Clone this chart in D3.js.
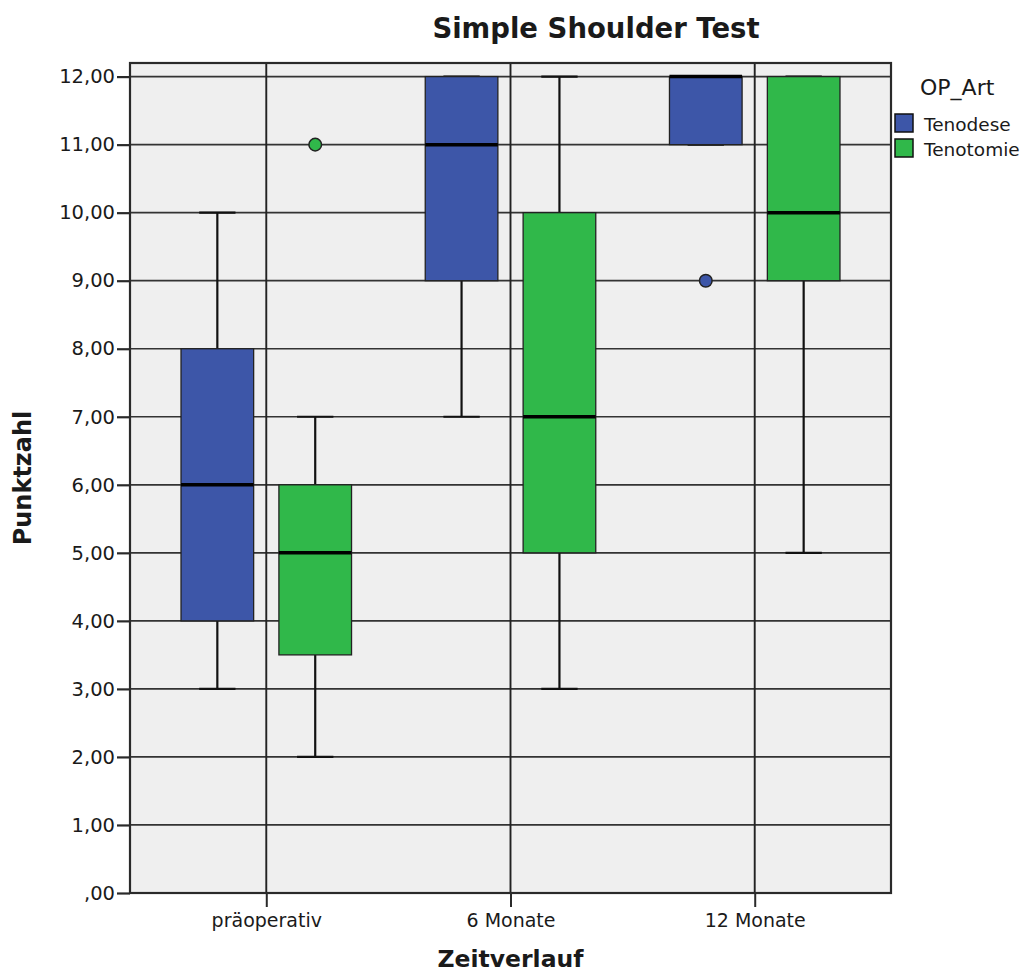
<!DOCTYPE html>
<html>
<head>
<meta charset="utf-8">
<script src="https://cdn.jsdelivr.net/npm/d3@7"></script>
<style>
  html, body { margin: 0; padding: 0; background: #ffffff; }
  svg { display: block; }
  text { font-family: "DejaVu Sans", sans-serif; fill: #1a1a1a; }
</style>
</head>
<body>
<svg id="chart" width="1033" height="976"></svg>
<script>
// Simple Shoulder Test scores by time point and surgery type
const categories = ["präoperativ", "6 Monate", "12 Monate"];
const series = ["Tenodese", "Tenotomie"];
const seriesColors = ["#3d56a8", "#30b84a"];

// box-plot statistics per series (rows) and time point (columns)
const whiskerLow  = [[3, 7, 11], [2, 3, 5]];
const quartile1   = [[4, 9, 11], [3.5, 5, 9]];
const medians     = [[6, 11, 12], [5, 7, 10]];
const quartile3   = [[8, 12, 12], [6, 10, 12]];
const whiskerHigh = [[10, 12, 12], [7, 12, 12]];

// single outlying values
const outlierSeries   = ["Tenotomie", "Tenodese"];
const outlierCategory = ["präoperativ", "12 Monate"];
const outlierValues   = [11, 9];

const yTicks = [0, 1, 2, 3, 4, 5, 6, 7, 8, 9, 10, 11, 12];
const yTickLabels = [",00", "1,00", "2,00", "3,00", "4,00", "5,00", "6,00",
                     "7,00", "8,00", "9,00", "10,00", "11,00", "12,00"];

const plot = { left: 130, right: 891, top: 63, bottom: 893 };
const svg = d3.select("#chart");

const x = d3.scalePoint()
  .domain(categories)
  .range([plot.left, plot.right])
  .padding(0.558);

const xSub = d3.scaleBand()
  .domain(series)
  .range([-x.step() / 2, x.step() / 2])
  .paddingInner(0.258)
  .paddingOuter(0.3765);

const y = d3.scaleLinear()
  .domain([0, 12.2])
  .range([plot.bottom, plot.top]);

// plot background
svg.append("rect")
  .attr("x", plot.left).attr("y", plot.top)
  .attr("width", plot.right - plot.left)
  .attr("height", plot.bottom - plot.top)
  .attr("fill", "#efefef");

// horizontal grid lines
svg.append("g")
  .selectAll("line")
  .data(yTicks)
  .join("line")
  .attr("x1", plot.left).attr("x2", plot.right)
  .attr("y1", d => y(d)).attr("y2", d => y(d))
  .attr("stroke", "#333")
  .attr("stroke-width", 1.7);

// vertical lines at each time point
svg.append("g")
  .selectAll("line")
  .data(categories)
  .join("line")
  .attr("x1", d => x(d)).attr("x2", d => x(d))
  .attr("y1", plot.top).attr("y2", plot.bottom)
  .attr("stroke", "#222")
  .attr("stroke-width", 1.9);

// y axis
const yAxis = d3.axisLeft(y)
  .tickValues(yTicks)
  .tickFormat((d, i) => yTickLabels[i])
  .tickSize(13)
  .tickPadding(2);
const gy = svg.append("g")
  .attr("transform", `translate(${plot.left},0)`)
  .call(yAxis);
gy.select(".domain").remove();
gy.selectAll(".tick line").attr("stroke", "#2a2a2a").attr("stroke-width", 2.2);
gy.selectAll(".tick text")
  .attr("font-size", 19.5)
  .attr("font-family", "DejaVu Sans, sans-serif")
  .attr("fill", "#222");

// x axis
const xAxis = d3.axisBottom(x).tickSize(14).tickPadding(7);
const gx = svg.append("g")
  .attr("transform", `translate(0,${plot.bottom})`)
  .call(xAxis);
gx.select(".domain").remove();
gx.selectAll(".tick line").attr("stroke", "#2a2a2a").attr("stroke-width", 2);
gx.selectAll(".tick text")
  .attr("font-size", 19)
  .attr("font-family", "DejaVu Sans, sans-serif")
  .attr("fill", "#222");

// boxes
const boxes = [];
series.forEach((s, si) => {
  categories.forEach((c, ci) => {
    boxes.push({
      s, si, c,
      lo: whiskerLow[si][ci], q1: quartile1[si][ci], med: medians[si][ci],
      q3: quartile3[si][ci], hi: whiskerHigh[si][ci]
    });
  });
});

const bw = xSub.bandwidth();
const cx = d => x(d.c) + xSub(d.s) + bw / 2;
const capHalf = bw / 4;

const gBox = svg.append("g");
const boxG = gBox.selectAll("g")
  .data(boxes)
  .join("g");

// whisker stems
boxG.append("line")
  .attr("x1", cx).attr("x2", cx)
  .attr("y1", d => y(d.hi)).attr("y2", d => y(d.q3))
  .attr("stroke", "#111").attr("stroke-width", 2.2);
boxG.append("line")
  .attr("x1", cx).attr("x2", cx)
  .attr("y1", d => y(d.q1)).attr("y2", d => y(d.lo))
  .attr("stroke", "#111").attr("stroke-width", 2.2);

// whisker caps
boxG.append("line")
  .attr("x1", d => cx(d) - capHalf).attr("x2", d => cx(d) + capHalf)
  .attr("y1", d => y(d.hi)).attr("y2", d => y(d.hi))
  .attr("stroke", "#111").attr("stroke-width", 2.2);
boxG.append("line")
  .attr("x1", d => cx(d) - capHalf).attr("x2", d => cx(d) + capHalf)
  .attr("y1", d => y(d.lo)).attr("y2", d => y(d.lo))
  .attr("stroke", "#111").attr("stroke-width", 2.2);

// interquartile boxes
boxG.append("rect")
  .attr("x", d => cx(d) - bw / 2)
  .attr("y", d => y(d.q3))
  .attr("width", bw)
  .attr("height", d => y(d.q1) - y(d.q3))
  .attr("fill", d => seriesColors[d.si])
  .attr("stroke", "#222")
  .attr("stroke-width", 1.3);

// medians
boxG.append("line")
  .attr("x1", d => cx(d) - bw / 2).attr("x2", d => cx(d) + bw / 2)
  .attr("y1", d => y(d.med)).attr("y2", d => y(d.med))
  .attr("stroke", "#000").attr("stroke-width", 3.5);

// outliers
const outliers = outlierValues.map((v, i) => ({
  s: outlierSeries[i], c: outlierCategory[i], v,
  si: series.indexOf(outlierSeries[i])
}));
svg.append("g")
  .selectAll("circle")
  .data(outliers)
  .join("circle")
  .attr("cx", cx)
  .attr("cy", d => y(d.v))
  .attr("r", 6.3)
  .attr("fill", d => seriesColors[d.si])
  .attr("stroke", "#222")
  .attr("stroke-width", 1.5);

// plot frame
svg.append("rect")
  .attr("x", plot.left).attr("y", plot.top)
  .attr("width", plot.right - plot.left)
  .attr("height", plot.bottom - plot.top)
  .attr("fill", "none")
  .attr("stroke", "#2a2a2a")
  .attr("stroke-width", 2.2);

// title and axis titles
svg.append("text")
  .attr("x", 596).attr("y", 38)
  .attr("text-anchor", "middle")
  .attr("font-size", 27.5)
  .attr("font-weight", "bold")
  .text("Simple Shoulder Test");

svg.append("text")
  .attr("transform", "translate(31,478) rotate(-90)")
  .attr("text-anchor", "middle")
  .attr("font-size", 24)
  .attr("font-weight", "bold")
  .text("Punktzahl");

svg.append("text")
  .attr("x", x("6 Monate")).attr("y", 967)
  .attr("text-anchor", "middle")
  .attr("font-size", 23.5)
  .attr("font-weight", "bold")
  .text("Zeitverlauf");

// legend
const legend = svg.append("g");
legend.append("text")
  .attr("x", 920).attr("y", 95)
  .attr("font-size", 22)
  .text("OP_Art");
const items = legend.selectAll("g.item")
  .data(series)
  .join("g")
  .attr("class", "item")
  .attr("transform", (d, i) => `translate(895,${114 + i * 25})`);
items.append("rect")
  .attr("width", 18).attr("height", 18)
  .attr("fill", (d, i) => seriesColors[i])
  .attr("stroke", "#111")
  .attr("stroke-width", 1.5);
items.append("text")
  .attr("x", 29).attr("y", 17)
  .attr("font-size", 18.5)
  .text(d => d);
</script>
</body>
</html>
